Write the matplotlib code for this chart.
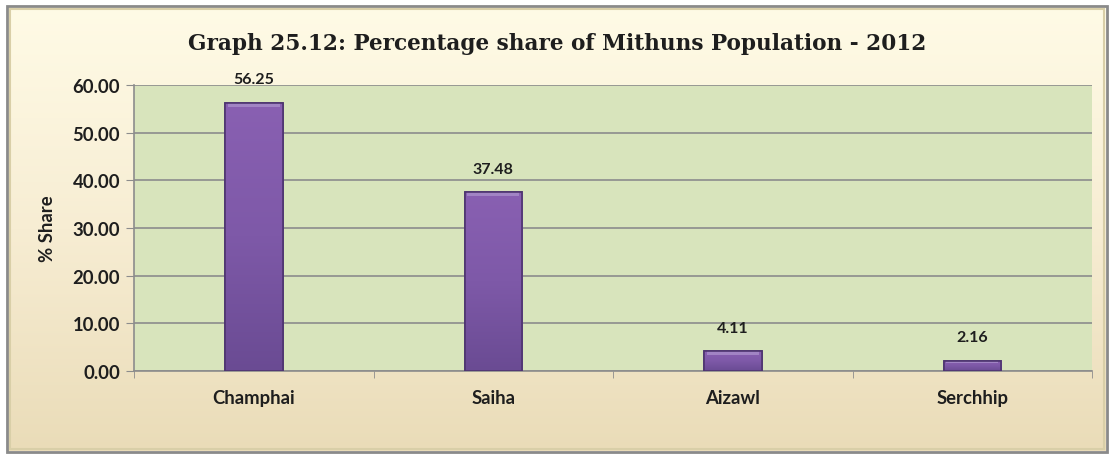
"""Percentage share of Mithuns population - 2012, bar chart."""
import numpy as np
import matplotlib as mpl
mpl.use('Agg')
import matplotlib.pyplot as plt
from matplotlib.colors import LinearSegmentedColormap
from matplotlib.patches import Rectangle

districts = ['Champhai', 'Saiha', 'Aizawl', 'Serchhip']
share = [56.25, 37.48, 4.11, 2.16]
yticks = [0, 10, 20, 30, 40, 50, 60]

fig = plt.figure(figsize=(11.14, 4.6), dpi=100)
fig.patch.set_facecolor('white')

# background panel with cream -> tan gradient and a grey frame
bg = fig.add_axes([0, 0, 1, 1])
bg.set_xlim(0, 1114)
bg.set_ylim(460, 0)
bg.axis('off')
cream = LinearSegmentedColormap.from_list('cream', ['#FFFBE6', '#F7EDD3', '#EADCB8'])
grad = np.linspace(0, 1, 256).reshape(-1, 1)
bg.imshow(grad, cmap=cream, extent=(8, 1106, 452, 8), aspect='auto', zorder=0)
bg.add_patch(Rectangle((7, 7), 1100, 446, fill=False, edgecolor='#8A8A8A', linewidth=2, zorder=1))
bg.add_patch(Rectangle((10, 10), 1094, 440, fill=False, edgecolor='#D9CFA8', linewidth=1.5, zorder=1))

ax = fig.add_axes([0.1203, 0.1913, 0.8600, 0.6217])
ax.set_facecolor('#D8E4BC')
x = np.arange(len(districts))
bars = ax.bar(x, share, width=0.24, color='#7855A0', edgecolor='#4E3570', linewidth=1.2, zorder=3)
purple = LinearSegmentedColormap.from_list('purple', ['#6A4B93', '#7E59A8', '#8960B2'])
for b in bars:
    x0, w, h = b.get_x(), b.get_width(), b.get_height()
    im = ax.imshow(grad, cmap=purple, extent=(x0, x0 + w, 0, h), origin='lower',
                   aspect='auto', zorder=3.5)
    im.set_clip_path(b)
    # light top bevel
    bh = min(0.8, h * 0.25)
    ax.add_patch(Rectangle((x0 + w * 0.05, h - bh), w * 0.9, bh,
                           facecolor='#A184C4', edgecolor='none', zorder=4))
    ax.add_patch(Rectangle((x0, 0), w, h, fill=False, edgecolor='#4E3570',
                           linewidth=1.2, zorder=4.5))
for xi, v in zip(x, share):
    ax.annotate('%.2f' % v, (xi, v), xytext=(0, 17), textcoords='offset points',
                ha='center', va='center', fontsize=11.5, fontweight='bold',
                family='Lato', color='#1E1E1E')

ax.set_xlim(-0.5, len(districts) - 0.5)
ax.set_ylim(0, 60)
ax.set_yticks(yticks)
ax.set_yticklabels(['%.2f' % t for t in yticks])
ax.yaxis.grid(True, color='#8C8C8C', linewidth=1.2, zorder=1)
ax.set_axisbelow(True)
ax.set_xticks(x)
ax.set_xticklabels(districts)
ax.set_xticks(np.arange(-0.5, len(districts)), minor=True)
ax.tick_params(axis='x', which='major', length=0, pad=13)
ax.tick_params(axis='x', which='minor', length=5, color='#8C8C8C', direction='out')
ax.tick_params(axis='y', length=6, color='#8C8C8C', pad=4)
for lab in ax.get_xticklabels() + ax.get_yticklabels():
    lab.set_fontsize(13.3)
    lab.set_fontweight('bold')
    lab.set_family('Lato')
    lab.set_color('#1E1E1E')
for s in ['top', 'right']:
    ax.spines[s].set_visible(False)
for s in ['left', 'bottom']:
    ax.spines[s].set_color('#8C8C8C')
    ax.spines[s].set_linewidth(1.2)

ax.set_ylabel('% Share', fontsize=13.3, fontweight='bold', family='Lato', color='#1E1E1E', labelpad=12)
fig.text(0.5, 0.904, 'Graph 25.12: Percentage share of Mithuns Population - 2012',
         ha='center', va='center', fontsize=15.6, fontweight='bold',
         family='DejaVu Serif', color='#1E1E1E')

plt.savefig('out.png', dpi=100)
plt.close()
